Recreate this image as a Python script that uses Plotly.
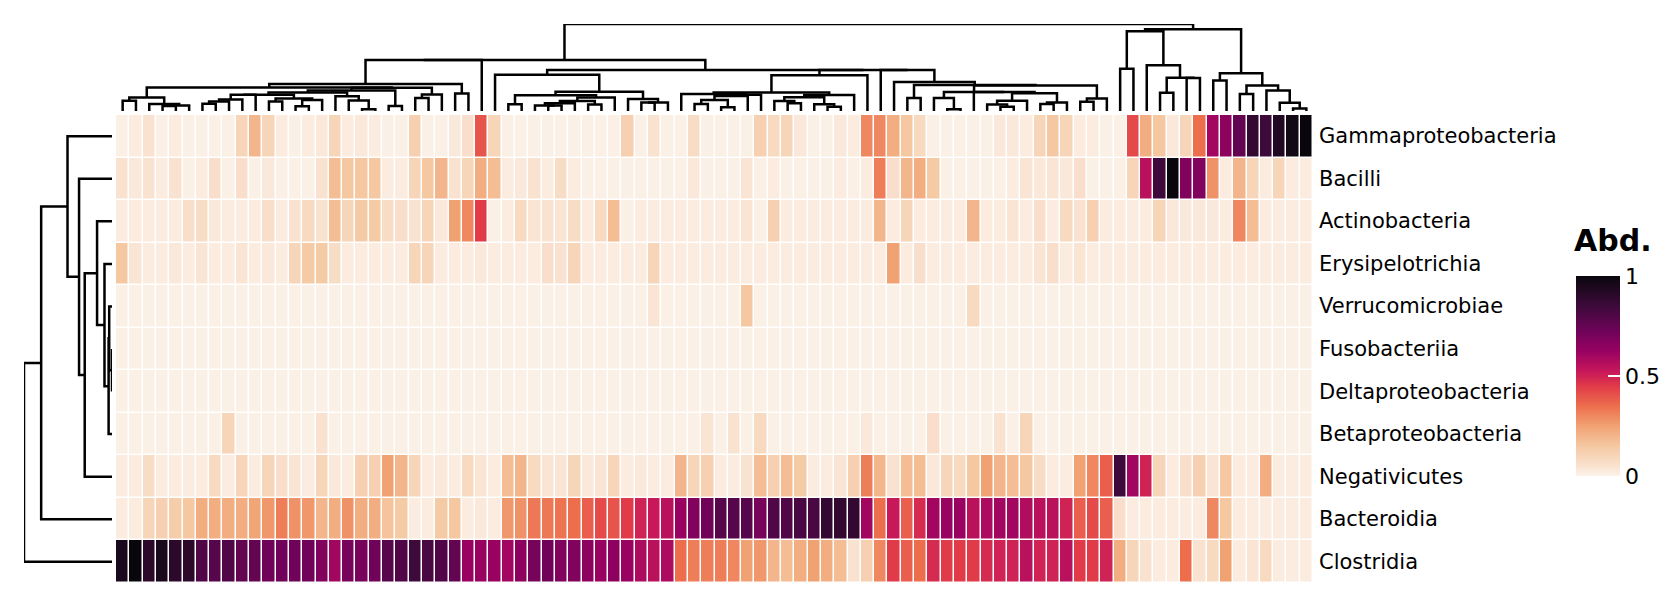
import numpy as np
import plotly.graph_objects as go

# Relative abundance per class (rows) across samples (columns, dendrogram order)
classes = ['Gammaproteobacteria', 'Bacilli', 'Actinobacteria', 'Erysipelotrichia',
           'Verrucomicrobiae', 'Fusobacteriia', 'Deltaproteobacteria',
           'Betaproteobacteria', 'Negativicutes', 'Bacteroidia', 'Clostridia']

gamma = [.01, .02, .05, .01, .02, .01, .01, .01, .01, .1, .2, .1, .02, .01, .02, .03, .1, .02, .03, .02,
         .01, .01, .12, .01, .01, .03, .06, .4, .1, .01, .01, .01, .01, .01, .01, .01, .01, .01, .12, .01,
         .05, .01, .01, .07, .01, .01, .01, .01, .12, .08, .1, .03, .01, .01, .03, .02, .3, .3, .22, .15,
         .08, .01, .01, .01, .01, .01, .03, .03, .02, .1, .15, .1, .02, .02, .01, .01, .42, .22, .15, .03,
         .1, .35, .6, .65, .75, .88, .85, .93, .97, 1.0]
bacilli = [.05, .03, .05, .02, .05, .01, .02, .06, .01, .06, .01, .03, .01, .01, .01, .05, .18, .15, .15, .15,
           .02, .02, .1, .15, .2, .05, .1, .22, .18, .02, .03, .05, .02, .07, .02, .01, .01, .01, .01, .01,
           .01, .01, .01, .03, .01, .01, .01, .04, .01, .02, .01, .01, .01, .01, .02, .01, .02, .32, .06, .2,
           .22, .14, .01, .01, .01, .01, .01, .02, .04, .03, .04, .03, .06, .01, .01, .01, .1, .55, .85, 1.0,
           .68, .68, .28, .02, .2, .1, .02, .1, .02, .02]
actino = [.02, .02, .02, .02, .02, .06, .07, .03, .02, .02, .02, .06, .02, .05, .08, .05, .18, .1, .14, .14,
          .07, .06, .05, .1, .03, .25, .3, .45, .01, .02, .08, .04, .05, .04, .07, .02, .08, .18, .01, .02,
          .02, .02, .02, .02, .02, .02, .02, .04, .01, .12, .02, .02, .02, .02, .02, .02, .02, .2, .02, .1,
          .02, .02, .02, .02, .2, .02, .02, .04, .02, .06, .02, .08, .05, .12, .02, .02, .02, .02, .1, .03,
          .03, .03, .03, .02, .3, .18, .02, .02, .02, .02]
erysip = [.15, .04, .02, .02, .03, .02, .04, .02, .02, .04, .02, .03, .02, .1, .14, .14, .07, .02, .02, .02,
          .02, .02, .1, .1, .02, .02, .02, .03, .02, .02, .02, .02, .06, .05, .1, .02, .02, .02, .02, .02,
          .1, .02, .02, .02, .02, .02, .02, .02, .02, .02, .02, .02, .02, .02, .02, .02, .02, .02, .25, .02,
          .06, .02, .02, .02, .02, .02, .02, .02, .02, .04, .06, .02, .04, .02, .02, .02, .02, .02, .02, .02,
          .02, .02, .02, .02, .02, .02, .02, .02, .02, .02]
verruco = [.01] * 40 + [.04] + [.01] * 6 + [.15] + [.01] * 16 + [.08] + [.01] * 25
fuso = [.01] * 90
delta = [.01] * 90
beta = ([.01] * 8 + [.1] + [.01] * 6 + [.05] + [.01] * 28 + [.04, .01, .05, .01, .08] + [.01] * 7
        + [.03] + [.01] * 4 + [.06] + [.01] * 4 + [.05, .01, .1] + [.01] * 21)
negati = [.02, .02, .07, .02, .02, .02, .02, .08, .02, .1, .02, .1, .06, .04, .02, .1, .03, .02, .12, .12,
          .25, .2, .1, .02, .03, .02, .08, .04, .02, .18, .2, .08, .04, .04, .1, .03, .04, .1, .02, .03,
          .02, .02, .2, .1, .12, .02, .02, .05, .18, .12, .18, .14, .02, .02, .04, .12, .32, .2, .05, .18,
          .18, .03, .1, .08, .15, .25, .2, .18, .15, .07, .02, .02, .25, .3, .38, .85, .6, .5, .1, .02,
          .06, .12, .04, .15, .02, .02, .22, .02, .02, .02]
bactero = [.02, .02, .1, .12, .13, .15, .22, .22, .22, .22, .24, .27, .32, .28, .27, .2, .22, .28, .22, .22,
           .16, .14, .02, .02, .14, .15, .02, .03, .02, .27, .28, .33, .33, .34, .35, .38, .42, .4, .45, .5,
           .52, .55, .62, .68, .72, .78, .78, .78, .7, .8, .8, .82, .82, .88, .88, .88, .6, .35, .52, .38,
           .48, .6, .62, .62, .55, .58, .6, .6, .57, .55, .55, .5, .38, .42, .38, .06, .02, .02, .02, .02,
           .02, .02, .3, .15, .02, .02, .02, .02, .02, .02]
clostr = [.95, 1.0, .9, .95, .9, .9, .8, .78, .8, .75, .75, .72, .72, .72, .72, .68, .6, .7, .7, .72,
          .78, .8, .85, .82, .8, .75, .62, .62, .62, .6, .65, .7, .72, .68, .68, .65, .62, .65, .62, .58,
          .55, .58, .35, .32, .32, .32, .3, .25, .27, .2, .18, .22, .25, .22, .18, .05, .12, .3, .45, .38,
          .35, .48, .45, .45, .45, .48, .5, .5, .55, .5, .5, .55, .45, .45, .5, .22, .1, .05, .02, .02,
          .35, .05, .08, .25, .02, .04, .08, .02, .02, .02]

z = np.array([gamma, bacilli, actino, erysip, verruco, fuso, delta, beta, negati, bactero, clostr])
n_rows, n_cols = z.shape

# rocket, reversed
rocket_r = [[0.0, '#fcf3ea'], [0.05, '#f9e2cf'], [0.15, '#f5c8a2'], [0.25, '#f1a273'],
            [0.35, '#ec6e4d'], [0.45, '#e13a48'], [0.52, '#c8185a'], [0.62, '#9a0262'],
            [0.72, '#700359'], [0.85, '#3d0a3b'], [1.0, '#09070c']]


def adjacent_linkage(items):
    # average linkage, merging only neighbours so leaf order is kept
    d = np.sqrt(((items[:, None, :] - items[None, :, :]) ** 2).sum(-1))
    cl = [([i], float(i), 0.0) for i in range(len(items))]
    xs, ys = [], []
    while len(cl) > 1:
        dist = [d[np.ix_(cl[j][0], cl[j + 1][0])].mean() for j in range(len(cl) - 1)]
        j = int(np.argmin(dist))
        a, b = cl[j], cl[j + 1]
        h = max(dist[j], a[2], b[2])
        xs += [a[1], a[1], b[1], b[1], None]
        ys += [a[2], h, h, b[2], None]
        cl[j:j + 2] = [(a[0] + b[0], (a[1] + b[1]) / 2, h)]
    return xs, ys


col_x, col_h = adjacent_linkage(z.T)
row_y, row_h = adjacent_linkage(z)

hm_x = [108 / 1680, 1305 / 1680]
hm_y = [1 - 575 / 600, 1 - 107 / 600]

fig = go.Figure()
fig.add_trace(go.Heatmap(
    z=z, x=list(range(n_cols)), y=list(range(n_rows)),
    colorscale=rocket_r, zmin=0, zmax=1, xgap=1.5, ygap=1.5,
    colorbar=dict(x=1568 / 1680, xanchor='left', xpad=0, ypad=0,
                  y=1 - 368 / 600, yanchor='middle',
                  len=200 / 600, lenmode='fraction', thickness=44, outlinewidth=0,
                  tickvals=[0, 0.5, 1], ticktext=['0', '0.5', '1'], ticks='inside',
                  ticklen=12, tickcolor='white', tickwidth=2, tickfont=dict(size=22)),
))
fig.add_trace(go.Scatter(x=col_x, y=col_h, mode='lines', xaxis='x2', yaxis='y2',
                         line=dict(color='black', width=2.5), hoverinfo='skip', showlegend=False))
fig.add_trace(go.Scatter(x=row_h, y=row_y, mode='lines', xaxis='x3', yaxis='y3',
                         line=dict(color='black', width=2.5), hoverinfo='skip', showlegend=False))

for i, name in enumerate(classes):
    fig.add_annotation(x=1309 / 1680, xref='paper', y=i, yref='y', text=name, showarrow=False,
                       xanchor='left', font=dict(size=21, color='black'))
fig.add_annotation(x=1564 / 1680, xref='paper', y=1 - 232 / 600, yref='paper', text='<b>Abd.</b>',
                   showarrow=False, xanchor='left', font=dict(size=30, color='black'))

hidden = dict(showgrid=False, zeroline=False, showticklabels=False, ticks='')
fig.update_layout(
    width=1680, height=600, margin=dict(l=0, r=0, t=0, b=0),
    paper_bgcolor='white', plot_bgcolor='white',
    font=dict(family='DejaVu Sans', color='black'),
    xaxis=dict(domain=hm_x, range=[-0.5, n_cols - 0.5], **hidden),
    yaxis=dict(domain=hm_y, range=[n_rows - 0.5, -0.5], **hidden),
    xaxis2=dict(domain=hm_x, range=[-0.5, n_cols - 0.5], anchor='y2', **hidden),
    yaxis2=dict(domain=[1 - 103 / 600, 1 - 16 / 600], anchor='x2',
                range=[0, max(h for h in col_h if h is not None)], **hidden),
    xaxis3=dict(domain=[16 / 1680, 104 / 1680], anchor='y3',
                range=[max(h for h in row_h if h is not None), 0], **hidden),
    yaxis3=dict(domain=hm_y, range=[n_rows - 0.5, -0.5], anchor='x3', **hidden),
)

fig.write_html("out.html")
